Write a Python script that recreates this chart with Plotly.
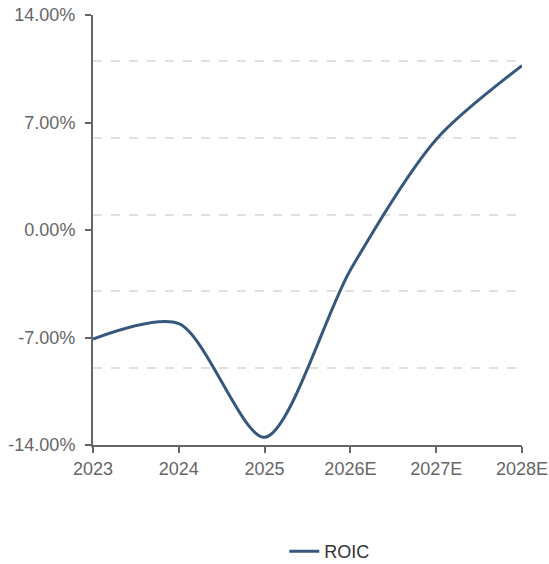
import plotly.graph_objects as go

# ROIC by fiscal year (E = estimate), in percent
years = ["2023", "2024", "2025", "2026E", "2027E", "2028E"]
roic = [-7.1, -6.1, -13.5, -2.6, 5.9, 10.7]

# axis ticks and the offset dashed guide lines
y_ticks = [-14, -7, 0, 7, 14]
guide_lines = [-9, -4, 1, 6, 11]

axis_color = "#666666"
font_family = "Liberation Sans, Arial, sans-serif"

fig = go.Figure()

fig.add_trace(go.Scatter(
    x=years, y=roic, name="ROIC", mode="lines",
    line=dict(color="#36587c", width=3, shape="spline", smoothing=0.8),
    hovertemplate="%{x}: %{y:.2f}%<extra></extra>",
))

# invisible carrier for the secondary axis that draws the dashed guides
fig.add_trace(go.Scatter(
    x=years, y=[None] * len(years), yaxis="y2", showlegend=False,
    hoverinfo="skip", mode="lines",
))

fig.update_layout(
    width=549, height=564,
    margin=dict(l=93, r=27, t=15, b=119),
    paper_bgcolor="white", plot_bgcolor="white",
    font=dict(family=font_family, size=18, color=axis_color),
    xaxis=dict(
        type="category", range=[0, len(years) - 1], automargin=False,
        showline=True, linecolor=axis_color, linewidth=2,
        ticks="outside", ticklen=6, tickwidth=2, tickcolor=axis_color,
        tickfont=dict(size=18, color=axis_color),
        showgrid=False, zeroline=False,
    ),
    yaxis=dict(
        range=[-14, 14], tickvals=y_ticks, automargin=False,
        ticktext=[f"{v:.2f}%" for v in y_ticks],
        showline=True, linecolor=axis_color, linewidth=2,
        ticks="outside", ticklen=6, tickwidth=2, tickcolor=axis_color,
        tickfont=dict(size=18, color=axis_color), ticklabelstandoff=6,
        showgrid=False, zeroline=False,
    ),
    yaxis2=dict(
        overlaying="y", range=[-14, 14], tickvals=guide_lines,
        showticklabels=False, ticks="", showline=False, zeroline=False,
        automargin=False,
        showgrid=True, gridcolor="#e0e0e0", gridwidth=1.5, griddash="dash",
    ),
    showlegend=True,
    legend=dict(
        orientation="h", x=0.552, xanchor="center",
        yref="container", y=0.022, yanchor="middle",
        font=dict(size=18, color="#333333"),
    ),
)

fig.write_html("out.html")
